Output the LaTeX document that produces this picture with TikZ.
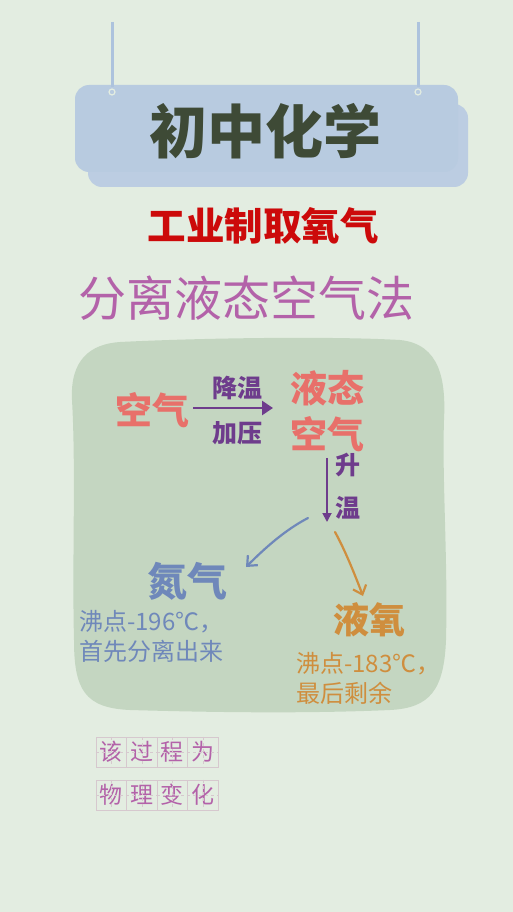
\documentclass[tikz,border=0pt]{standalone}
\usepackage{fontspec}
\newfontfamily\cjk{Noto Sans CJK SC}
\usetikzlibrary{arrows.meta}
\definecolor{bg}{HTML}{E3EDE1}
\definecolor{blob}{HTML}{C4D6C1}
\definecolor{banner}{HTML}{B8CBE0}
\definecolor{bannersh}{HTML}{BCCDE2}
\definecolor{stringc}{HTML}{ADC3DD}
\definecolor{titlec}{HTML}{3E4A36}
\definecolor{redc}{HTML}{CC0A0A}
\definecolor{purp}{HTML}{B362A9}
\definecolor{salm}{HTML}{E8706A}
\definecolor{arrp}{HTML}{6E3C8C}
\definecolor{bluec}{HTML}{6F88BA}
\definecolor{orac}{HTML}{CF8E3E}
\definecolor{gridc}{HTML}{D6C8CE}
\tikzset{
  txt/.style={inner sep=0pt, font=\cjk},
  big/.style={txt, font=\cjk\bfseries\fontsize{37}{40}\selectfont, text=salm},
  lab/.style={txt, font=\cjk\bfseries\fontsize{25}{28}\selectfont, text=arrp},
  note/.style={txt, anchor=west, align=left, font=\cjk\fontsize{24}{30}\selectfont},
  gbox/.style={draw=gridc, line width=0.8pt, minimum width=30.5pt, minimum height=30pt, inner sep=0pt,
    font=\cjk\fontsize{23}{25}\selectfont, text=purp},
}
\begin{document}
\begin{tikzpicture}[x=1pt,y=-1pt]
\useasboundingbox (0,0) rectangle (513,912);
\fill[bg] (0,0) rectangle (513,912);
% banner
\fill[bannersh, rounded corners=14pt] (88,104) rectangle (468,187);
\fill[banner, rounded corners=14pt] (75,85) rectangle (458,172);
\draw[stringc, line width=3pt] (112,22) -- (112,87);
\draw[stringc, line width=3pt] (418,22) -- (418,87);
\draw[bg, line width=1.2pt] (112,92) circle (3);
\draw[bg, line width=1.2pt] (418,92) circle (3);
\node[txt, font=\cjk\bfseries\fontsize{58}{60}\selectfont, text=titlec] (title) at (265,131) {初中化学};
\node[txt, font=\cjk\bfseries\fontsize{38.5}{40}\selectfont, text=redc] (sub) at (263,226) {工业制取氧气};
\node[txt, font=\cjk\fontsize{48}{50}\selectfont, text=purp] (method) at (246,298) {分离液态空气法};
% blob
\fill[blob] (120,342) .. controls (200,338) and (330,336) .. (400,340)
  .. controls (440,344) and (446,380) .. (444,420)
  .. controls (442,480) and (448,560) .. (446,640)
  .. controls (444,690) and (430,708) .. (390,710)
  .. controls (300,714) and (200,712) .. (130,710)
  .. controls (85,708) and (74,690) .. (74,640)
  .. controls (72,560) and (76,470) .. (72,400)
  .. controls (70,360) and (90,344) .. (120,342) -- cycle;
% nodes
\node[big] (air) at (152,410) {空气};
\node[big] (liq1) at (327,388) {液态};
\node[big] (liq2) at (327,434) {空气};
\node[lab] (jw) at (237,388) {降温};
\node[lab] (jy) at (237,433) {加压};
\node[lab] (sh) at (348,465) {升};
\node[lab] (wen) at (348,508) {温};
\coordinate (down) at (327,522);
\draw[arrp, line width=2.8pt, -{Triangle[length=11pt,width=14pt]}] (air.east) ++(4,-2) coordinate (a1) -- (273,408) coordinate (a2);
\draw[arrp, line width=1.8pt, -{Triangle[length=9pt,width=9pt]}] (liq2.south) ++(0,6) -- (down);
\node[txt, font=\cjk\bfseries\fontsize{40}{42}\selectfont, text=bluec] (n2) at (187,581) {氮气};
\node[txt, font=\cjk\bfseries\fontsize{36}{38}\selectfont, text=orac] (o2) at (369,620) {液氧};
\coordinate (bstart) at (308,518);
\coordinate (bend) at (246,567);
\coordinate (ostart) at (335,532);
\coordinate (oend) at (363,596);
\draw[bluec, line width=2.2pt, line cap=round, -{Straight Barb[length=8pt,width=14pt]}] (bstart) .. controls (285,530) and (265,548) .. (bend);
\draw[orac, line width=2.2pt, line cap=round, -{Straight Barb[length=8pt,width=14pt]}] (ostart) .. controls (345,550) and (355,575) .. (oend);
\node[note, text=bluec] (n2t) at (79,636) {沸点-196℃，\\首先分离出来};
\node[note, text=orac] (o2t) at (296,678) {沸点-183℃，\\最后剩余};
% grid boxes
\foreach \c [count=\i] in {该,过,程,为} {
  \node[gbox] (r1\i) at (96+30.5*\i-15.25,752) {\c};
  \draw[gridc, line width=0.4pt, dashed] (r1\i.north) -- (r1\i.south) (r1\i.west) -- (r1\i.east);
}
\foreach \c [count=\i] in {物,理,变,化} {
  \node[gbox] (r2\i) at (96+30.5*\i-15.25,795) {\c};
  \draw[gridc, line width=0.4pt, dashed] (r2\i.north) -- (r2\i.south) (r2\i.west) -- (r2\i.east);
}
\end{tikzpicture}
\end{document}
